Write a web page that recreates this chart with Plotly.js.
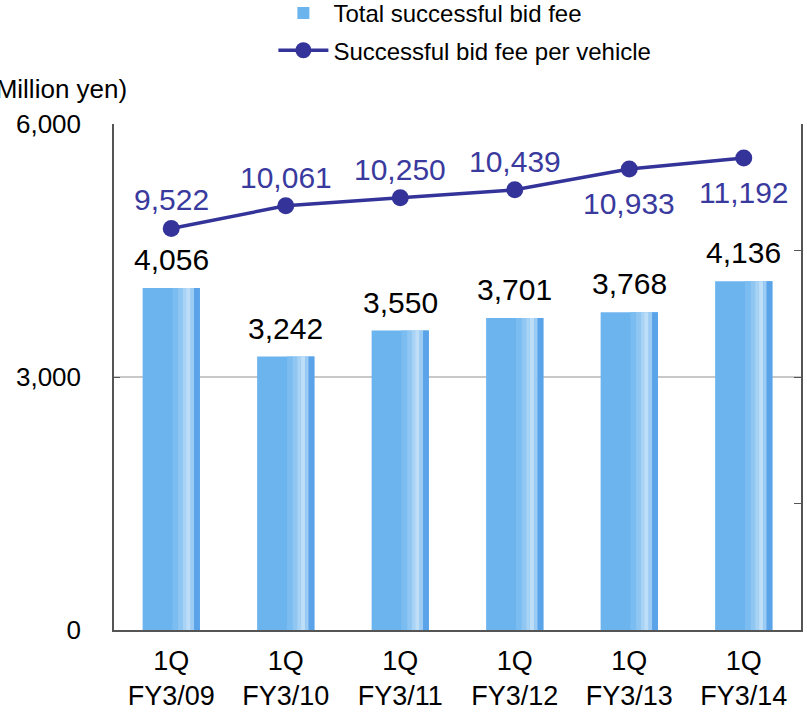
<!DOCTYPE html>
<html>
<head>
<meta charset="utf-8">
<script src="https://cdn.plot.ly/plotly-3.0.1.min.js"></script>
<style>html,body{margin:0;padding:0;background:#fff}#chart{width:807px;height:714px}</style>
</head>
<body>
<div id="chart"></div>
<script>
const categories = ["1Q<br>FY3/09","1Q<br>FY3/10","1Q<br>FY3/11","1Q<br>FY3/12","1Q<br>FY3/13","1Q<br>FY3/14"];
const totalFee = [4056, 3242, 3550, 3701, 3768, 4136];
const feePerVehicle = [9522, 10061, 10250, 10439, 10933, 11192];
const lineLabelPos = ["above","above","above","above","below","below"];
const leftTicks = [0, 3000, 6000];

const FONT = "Liberation Sans, Arial, sans-serif";
const BAR_W = 0.5;
const fmt = v => v.toLocaleString("en-US");

// gradient-like stripes on the right part of each bar (overlaid narrow bars of the same value)
const stripes = [
  {from: 0.01, to: 0.06, color: "#7bbdf0"},
  {from: 0.06, to: 0.10, color: "#90c7f2"},
  {from: 0.10, to: 0.13, color: "#a9d3f5"},
  {from: 0.13, to: 0.17, color: "#bedef8"},
  {from: 0.17, to: 0.20, color: "#9ccbf3"},
  {from: 0.20, to: 0.25, color: "#5aa3e9"}
];

const traces = [];
traces.push({
  type: "bar", x: categories, y: totalFee, name: "Total successful bid fee",
  legendgroup: "a",
  width: BAR_W, marker: {color: "#6cb4ee"}, yaxis: "y", hoverinfo: "skip"
});
stripes.forEach(s => {
  traces.push({
    type: "bar", x: categories, y: totalFee, showlegend: false, legendgroup: "a",
    width: s.to - s.from, offset: s.from, marker: {color: s.color},
    yaxis: "y", hoverinfo: "skip"
  });
});
traces.push({
  type: "scatter", mode: "lines+markers", x: categories, y: feePerVehicle,
  name: "Successful bid fee per vehicle", yaxis: "y2", legendgroup: "b",
  line: {color: "#333399", width: 3.5},
  marker: {color: "#333399", size: 17}
});

const annotations = [];
categories.forEach((c, i) => {
  annotations.push({
    x: c, y: totalFee[i], xref: "x", yref: "y", text: fmt(totalFee[i]),
    showarrow: false, yanchor: "bottom", yshift: 10,
    font: {family: FONT, size: 30, color: "#000"}
  });
  annotations.push({
    x: c, y: feePerVehicle[i], xref: "x", yref: "y2", text: fmt(feePerVehicle[i]),
    showarrow: false, yanchor: lineLabelPos[i] === "above" ? "bottom" : "top",
    yshift: lineLabelPos[i] === "above" ? 10 : -16,
    font: {family: FONT, size: 30, color: "#3a3a9e"}
  });
});
annotations.push({
  xref: "paper", yref: "paper", x: -0.188, y: 1.069, xanchor: "left", yanchor: "middle",
  text: "(Million yen)", showarrow: false, font: {family: FONT, size: 26, color: "#000"}
});

const layout = {
  width: 807, height: 714,
  margin: {l: 114, r: 6, t: 124, b: 84, autoexpand: false},
  paper_bgcolor: "#fff", plot_bgcolor: "#fff",
  font: {family: FONT, color: "#000"},
  barmode: "overlay",
  showlegend: true,
  legend: {
    x: 0.232, y: 1.263, xanchor: "left", yanchor: "top",
    font: {family: FONT, size: 24, color: "#000"},
    traceorder: "grouped",
    itemwidth: 50, tracegroupgap: 3, bgcolor: "rgba(0,0,0,0)"
  },
  xaxis: {
    type: "category", showline: true, linecolor: "#555", linewidth: 1.5,
    ticks: "", showgrid: false, ticklabelstandoff: 6, tickangle: 0, automargin: false,
    tickfont: {family: FONT, size: 27, color: "#000"}
  },
  yaxis: {
    range: [0, 6000], tickvals: leftTicks, ticktext: leftTicks.map(fmt),
    showline: true, linecolor: "#555", linewidth: 1.5, automargin: false,
    ticks: "inside", ticklen: 6, tickcolor: "#555",
    showgrid: true, gridcolor: "#c8c8c8", gridwidth: 1.5, zeroline: false,
    tickfont: {family: FONT, size: 26, color: "#000"}, ticklabelstandoff: 26
  },
  yaxis2: {
    overlaying: "y", side: "right", range: [0, 12000], dtick: 3000,
    showline: true, linecolor: "#555", linewidth: 1.5, automargin: false,
    ticks: "inside", ticklen: 7, tickcolor: "#555",
    showticklabels: false, showgrid: false, zeroline: false
  },
  annotations: annotations
};

Plotly.newPlot("chart", traces, layout, {displayModeBar: false});
</script>
</body>
</html>
